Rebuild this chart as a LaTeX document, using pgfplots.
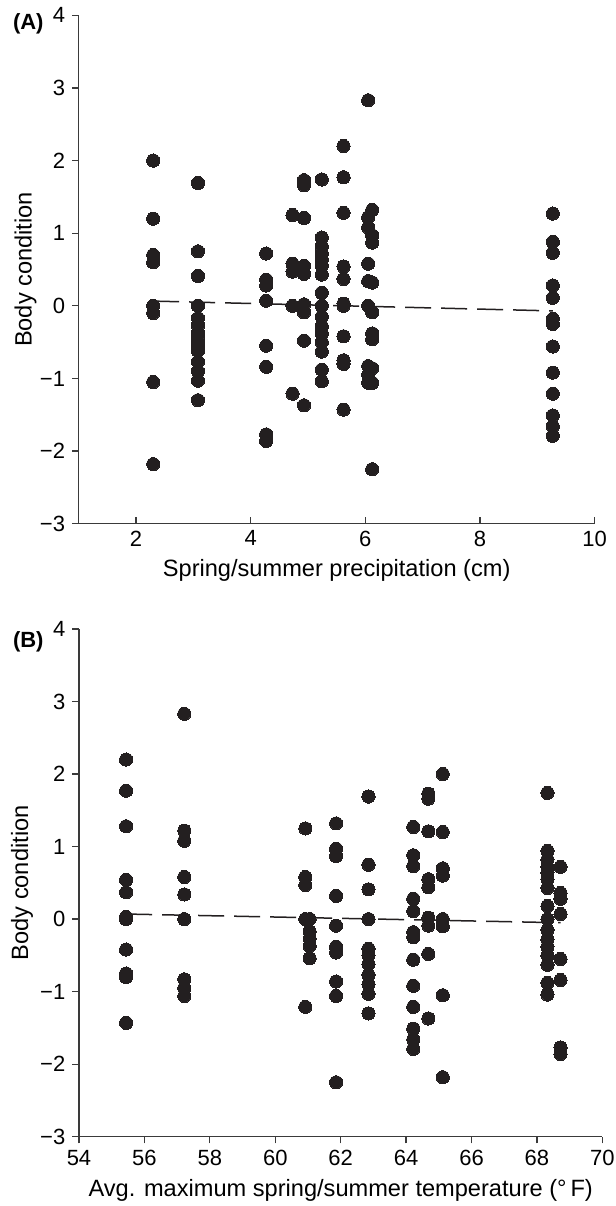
\documentclass[border=0pt]{standalone}
\usepackage{fontspec}
\setmainfont{Liberation Sans}
\usepackage{pgfplots}
\usepackage{pgfplotstable}
\pgfplotsset{compat=1.18}
\definecolor{dot}{HTML}{231F20}
\definecolor{axc}{HTML}{3A3A3A}

\pgfplotstableread{
p t v
2.30 65.12 2.00
2.30 65.12 1.20
2.30 65.12 0.70
2.30 65.12 0.60
2.30 65.12 0.00
2.30 65.12 -0.10
2.30 65.12 -1.05
2.30 65.12 -2.18
3.08 62.85 1.69
3.08 62.85 0.75
3.08 62.85 0.41
3.08 62.85 0.00
3.08 62.85 -0.41
3.08 62.85 -0.50
3.08 62.85 -0.62
3.08 62.85 -0.77
3.08 62.85 -0.90
3.08 62.85 -1.03
3.08 62.85 -1.30
3.08 61.05 0.00
3.08 61.05 -0.17
3.08 61.05 -0.27
3.08 61.05 -0.37
3.08 61.05 -0.54
4.27 68.72 0.72
4.27 68.72 0.36
4.27 68.72 0.28
4.27 68.72 0.07
4.27 68.72 -0.55
4.27 68.72 -0.84
4.27 68.72 -1.77
4.27 68.72 -1.86
4.73 60.92 1.25
4.73 60.92 0.58
4.73 60.92 0.47
4.73 60.92 0.00
4.73 60.92 -1.21
4.93 64.68 1.73
4.93 64.68 1.66
4.93 64.68 1.21
4.93 64.68 0.55
4.93 64.68 0.44
4.93 64.68 0.02
4.93 64.68 -0.09
4.93 64.68 -0.48
4.93 64.68 -1.37
5.24 68.32 1.74
5.24 68.32 0.94
5.24 68.32 0.82
5.24 68.32 0.72
5.24 68.32 0.64
5.24 68.32 0.55
5.24 68.32 0.43
5.24 68.32 0.18
5.24 68.32 0.00
5.24 68.32 -0.15
5.24 68.32 -0.28
5.24 68.32 -0.38
5.24 68.32 -0.50
5.24 68.32 -0.63
5.24 68.32 -0.88
5.24 68.32 -1.04
5.62 55.44 2.20
5.62 55.44 1.77
5.62 55.44 1.28
5.62 55.44 0.54
5.62 55.44 0.37
5.62 55.44 0.03
5.62 55.44 0.00
5.62 55.44 -0.42
5.62 55.44 -0.75
5.62 55.44 -0.80
5.62 55.44 -1.43
6.05 57.22 2.83
6.05 57.22 1.22
6.05 57.22 1.08
6.05 57.22 0.58
6.05 57.22 0.34
6.05 57.22 0.00
6.05 57.22 -0.83
6.05 57.22 -0.95
6.05 57.22 -1.06
6.12 61.86 1.32
6.12 61.86 0.97
6.12 61.86 0.87
6.12 61.86 0.32
6.12 61.86 -0.09
6.12 61.86 -0.38
6.12 61.86 -0.46
6.12 61.86 -0.86
6.12 61.86 -1.06
6.12 61.86 -2.25
9.27 64.22 1.27
9.27 64.22 0.88
9.27 64.22 0.73
9.27 64.22 0.28
9.27 64.22 0.11
9.27 64.22 -0.18
9.27 64.22 -0.25
9.27 64.22 -0.56
9.27 64.22 -0.92
9.27 64.22 -1.21
9.27 64.22 -1.51
9.27 64.22 -1.66
9.27 64.22 -1.79
}\bodydata

\pgfplotsset{
  panel/.style={
    scale only axis,
    axis x line*=bottom, axis y line*=left,
    axis line style={axc, line width=0.65pt},
    every tick/.style={axc, line width=0.65pt},
    major tick length=3.3pt,
    ymin=-3, ymax=4, ytick={-3,-2,-1,0,1,2,3,4},
    yticklabels={−3,−2,−1,0,1,2,3,4},
    ytick align=outside,
    tick label style={font=\fontsize{11}{13}\selectfont, color=black},
    label style={font=\fontsize{11.8}{14}\selectfont},
    /pgf/number format/assume math mode=true,
    ylabel={Body condition},
    clip=false,
  },
  dots/.style={only marks, mark=*, mark size=3.3pt,
    mark options={fill=dot, draw=dot, line width=0pt}},
  fitline/.style={no marks, dash pattern=on 13pt off 5pt, line width=0.75pt, color=dot},
}

\begin{document}
\begin{tikzpicture}
\useasboundingbox (0,0) rectangle (308pt,603pt);
\begin{axis}[panel,
  at={(39.35pt,341.15pt)}, anchor=south west,
  width=258pt, height=254.2pt,
  xmin=1, xmax=10, xtick={2,4,6,8,10},
  xtick align=inside,
  xlabel={Spring/summer precipitation (cm)},
  xlabel style={at={(axis description cs:0.5,-0.0925)}, anchor=center},
  ylabel style={at={(axis description cs:-0.103,0.5)}, anchor=center},
]
\addplot[fitline] coordinates {(2.30,0.065) (9.27,-0.07)};
\addplot[dots] table[x=p, y=v] {\bodydata};
\end{axis}
\node[font=\bfseries\fontsize{11}{13}\selectfont, anchor=west, inner sep=0pt] at (6.3pt,591pt) {(A)};

\begin{axis}[panel,
  at={(39.5pt,34.65pt)}, anchor=south west,
  width=261.7pt, height=253.85pt,
  xmin=54, xmax=70, xtick={54,56,58,60,62,64,66,68,70},
  xtick align=outside,
  xlabel={Avg. maximum spring/summer temperature (°\,F)},
  xlabel style={at={(axis description cs:0.5,-0.106)}, anchor=center},
  ylabel style={at={(axis description cs:-0.109,0.5)}, anchor=center},
]
\addplot[fitline] coordinates {(55.44,0.07) (68.72,-0.05)};
\addplot[dots] table[x=t, y=v] {\bodydata};
\end{axis}
\node[font=\bfseries\fontsize{11}{13}\selectfont, anchor=west, inner sep=0pt] at (6.3pt,282.2pt) {(B)};
\end{tikzpicture}
\end{document}
